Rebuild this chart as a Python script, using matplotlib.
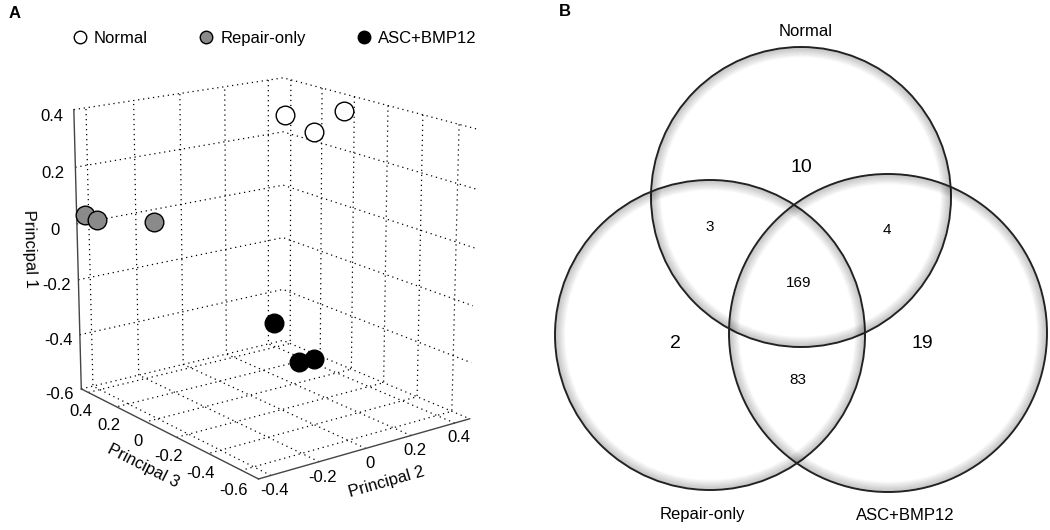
import matplotlib
matplotlib.use('Agg')
import matplotlib.pyplot as plt
from matplotlib.patches import Circle
from matplotlib.lines import Line2D

plt.rcParams['font.family'] = ['Liberation Sans', 'DejaVu Sans']

# ---------------- data ----------------
groups = ['Normal', 'Repair-only', 'ASC+BMP12']
group_faces = ['white', '#8a8a8a', 'black']
# PCA scores
normal_p2 = [0.23, 0.285, 0.345]
normal_p3 = [0.10, 0.00, -0.10]
normal_p1 = [0.35, 0.30, 0.38]
repair_p2 = [-0.42, -0.395, -0.215]
repair_p3 = [0.44, 0.40, 0.30]
repair_p1 = [0.03, 0.015, 0.00]
asc_p2 = [0.25, 0.225, 0.33]
asc_p3 = [0.20, 0.00, 0.05]
asc_p1 = [-0.43, -0.525, -0.545]

p1_ticks = [-0.6, -0.4, -0.2, 0, 0.2, 0.4]
p2_ticks = [-0.4, -0.2, 0, 0.2, 0.4]
p3_ticks = [-0.6, -0.4, -0.2, 0, 0.2, 0.4]

venn_sets = ['Normal', 'Repair-only', 'ASC+BMP12']
venn_region_names = ['Normal only', 'Repair-only only', 'ASC+BMP12 only',
                     'Normal & Repair-only', 'Normal & ASC+BMP12',
                     'Repair-only & ASC+BMP12', 'All three']
venn_counts = [10, 2, 19, 3, 4, 83, 169]


def fmt(v):
    return '0' if v == 0 else f'{v:g}'


fig = plt.figure(figsize=(10.5, 5.3), dpi=100)

# ---------------- panel A: 3D PCA ----------------
ax = fig.add_axes([-0.048, -0.012, 0.6, 1.0], projection='3d')
ax.set_proj_type('persp', focal_length=0.75)
ax.view_init(elev=16.5, azim=-127)
ax.set_box_aspect((262, 307, 295), zoom=0.92)
ax.set_xlim(-0.45, 0.47)
ax.set_ylim(-0.70, 0.45)
ax.set_zlim(-0.6, 0.4)

for axis in (ax.xaxis, ax.yaxis, ax.zaxis):
    axis.set_pane_color((1, 1, 1, 1))
    axis.pane.set_edgecolor((1, 1, 1, 0))
    axis._axinfo['grid'].update(color='black', linestyle=(0, (1, 3)), linewidth=0.9)
    axis._axinfo['tick'].update(inward_factor=0.0, outward_factor=0.0)
    axis.line.set_color('#444444')
    axis.line.set_linewidth(1.0)

ax.set_xticks(p2_ticks)
ax.set_xticklabels([fmt(v) for v in p2_ticks], fontsize=12)
ax.set_yticks(p3_ticks)
ax.set_yticklabels([fmt(v) for v in p3_ticks], fontsize=12)
ax.set_zticks(p1_ticks)
ax.set_zticklabels([fmt(v) for v in p1_ticks], fontsize=12)
ax.tick_params(axis='x', pad=-4)
ax.tick_params(axis='y', pad=-1)
ax.set_xlabel('Principal 2', fontsize=12, labelpad=-3)
ax.set_ylabel('Principal 3', fontsize=12, labelpad=-1)
ax.set_zlabel('Principal 1', fontsize=12)

series = [(normal_p2, normal_p3, normal_p1),
          (repair_p2, repair_p3, repair_p1),
          (asc_p2, asc_p3, asc_p1)]
for (xs, ys, zs), face in zip(series, group_faces):
    ax.scatter(xs, ys, zs, s=180, c=face, edgecolors='black', linewidths=1.0,
               depthshade=False, alpha=1)

handles = [Line2D([], [], marker='o', linestyle='none', markersize=9,
                  markerfacecolor=f, markeredgecolor='black', markeredgewidth=1.0)
           for f in group_faces]
fig.legend(handles, groups, loc='center left', bbox_to_anchor=(0.068, 0.928), ncol=3,
           frameon=False, fontsize=12, handlelength=1.0, handletextpad=0.35,
           columnspacing=3.0, borderpad=0, borderaxespad=0)

fig.text(0.008, 0.975, 'A', fontsize=12, fontweight='bold', va='center')
fig.text(0.532, 0.978, 'B', fontsize=12, fontweight='bold', va='center')

# ---------------- panel B: Venn ----------------
bx = fig.add_axes([530 / 1050, 0, 520 / 1050, 1])
bx.set_xlim(530, 1050)
bx.set_ylim(530, 0)
bx.axis('off')

centers = [(801, 197), (710, 335), (888, 333)]
radii = [150, 155, 159]
for (cx, cy), r in zip(centers, radii):
    n = 14
    for k in range(n):
        bx.add_patch(Circle((cx, cy), r - 1.0 - k * 0.7, fill=False,
                            edgecolor='black', linewidth=1.0,
                            alpha=0.12 * (1 - k / n)))
    bx.add_patch(Circle((cx, cy), r, fill=False, edgecolor='#222222', linewidth=1.4))

set_label_pos = [(806, 31), (702, 515), (905, 515)]
for name, (x, y) in zip(venn_sets, set_label_pos):
    bx.text(x, y, name, fontsize=12, ha='center', va='center')

count_pos = [(801, 168), (675, 343), (922, 343), (710, 227), (887, 230), (798, 380), (799, 283)]
count_size = [14, 14, 14, 11, 11, 11, 11]
for c, (x, y), fs in zip(venn_counts, count_pos, count_size):
    bx.text(x, y, str(c), fontsize=fs, ha='center', va='center')

fig.savefig('out.png', dpi=100)
